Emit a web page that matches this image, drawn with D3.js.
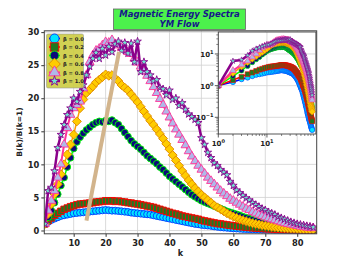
<!DOCTYPE html>
<html><head><meta charset="utf-8">
<script src="https://cdn.jsdelivr.net/npm/d3@7"></script>
<style>body{margin:0;background:#fff}svg{display:block}</style>
</head><body>
<svg id="c" width="352" height="264"></svg>
<script>
const kValues = d3.range(1, 86);
const beta00 = [1.0,1.3,1.6,1.8,2.0,2.2,2.3,2.4,2.5,2.6,2.65,2.7,2.75,2.8,2.85,2.9,2.95,3.0,3.05,3.1,3.05,3.0,3.0,2.95,2.9,2.85,2.8,2.7,2.65,2.6,2.55,2.5,2.45,2.4,2.3,2.2,2.1,2.0,1.9,1.8,1.7,1.6,1.5,1.4,1.3,1.2,1.1,1.0,0.95,0.85,0.8,0.75,0.7,0.62,0.56,0.5,0.45,0.41,0.37,0.33,0.3,0.27,0.24,0.22,0.2,0.18,0.16,0.14,0.13,0.12,0.11,0.1,0.09,0.085,0.08,0.075,0.07,0.065,0.06,0.055,0.05,0.048,0.045,0.042,0.04];
const beta02 = [1.0,1.5,1.9,2.3,2.6,2.9,3.2,3.4,3.6,3.75,3.9,4.0,4.05,4.1,4.15,4.2,4.3,4.35,4.4,4.5,4.45,4.5,4.4,4.45,4.35,4.3,4.2,4.15,4.05,4.0,3.9,3.8,3.7,3.6,3.5,3.35,3.2,3.05,2.9,2.75,2.6,2.5,2.35,2.2,2.1,2.0,1.9,1.8,1.7,1.55,1.45,1.35,1.25,1.15,1.05,1.0,0.92,0.85,0.78,0.72,0.66,0.6,0.55,0.5,0.45,0.41,0.37,0.34,0.31,0.28,0.25,0.23,0.21,0.19,0.17,0.16,0.14,0.13,0.12,0.11,0.1,0.09,0.085,0.08,0.075];
const beta04 = [1.0,2.0,3.0,4.2,5.5,6.8,8.0,9.6,11.0,12.4,13.4,14.1,14.7,15.2,15.6,16.0,16.3,16.5,16.4,16.6,16.5,16.7,16.3,16.0,15.4,14.8,14.2,13.6,13.1,12.7,12.3,11.8,11.3,10.9,10.5,10.1,9.6,9.2,8.7,8.2,7.8,7.4,7.0,6.6,6.2,5.8,5.4,5.1,4.8,4.5,4.3,4.1,3.9,3.7,3.5,3.3,3.1,2.9,2.75,2.6,2.45,2.3,2.1,1.95,1.8,1.65,1.5,1.35,1.2,1.1,1.0,0.9,0.8,0.72,0.64,0.57,0.5,0.45,0.4,0.35,0.31,0.28,0.25,0.22,0.2];
const beta06 = [1.0,2.5,4.0,5.5,7.0,8.5,10.0,11.5,13.0,14.5,16.5,18.5,19.8,20.8,21.3,21.8,22.4,22.8,23.2,23.6,23.4,23.5,23.0,22.6,22.0,21.6,21.2,20.6,20.0,19.4,18.7,18.0,17.3,16.6,16.0,15.3,14.6,13.9,13.1,12.3,11.4,10.6,9.8,9.0,8.3,7.6,7.0,6.4,5.9,5.4,5.0,4.6,4.2,3.8,3.5,3.2,2.9,2.6,2.35,2.1,1.9,1.7,1.55,1.4,1.25,1.1,1.0,0.9,0.8,0.72,0.64,0.57,0.51,0.46,0.41,0.37,0.33,0.3,0.27,0.24,0.22,0.2,0.18,0.16,0.15];
const beta08 = [1.0,3.0,4.5,6.0,8.0,10.0,13.0,15.5,17.5,18.5,19.0,19.5,21.5,23.5,25.5,26.5,27.2,27.5,28.0,28.5,28.4,28.8,28.2,28.0,27.6,27.4,27.0,26.7,26.0,25.4,24.8,24.1,23.4,22.6,21.7,20.8,19.9,19.0,18.0,17.1,16.2,15.3,14.5,13.7,12.9,12.0,11.2,10.5,9.8,9.2,8.6,8.0,7.5,7.0,6.5,6.0,5.6,5.2,4.8,4.5,4.2,3.9,3.6,3.3,3.1,2.8,2.6,2.4,2.2,2.0,1.85,1.7,1.55,1.4,1.25,1.1,1.0,0.9,0.8,0.7,0.6,0.52,0.45,0.4,0.35];
const beta10 = [1.0,6.0,6.5,9.0,12.5,14.5,16.0,17.5,18.5,20.0,19.5,21.0,22.0,23.5,24.8,26.0,26.9,26.0,27.5,26.5,27.8,27.0,28.2,28.6,27.2,28.4,26.8,28.3,25.5,28.6,24.0,25.5,24.0,23.5,22.6,22.8,21.6,21.4,20.5,21.2,19.8,20.0,18.9,19.3,18.3,17.6,17.2,16.8,16.3,14.0,13.0,11.8,11.0,10.2,9.8,9.2,8.8,8.4,7.4,6.8,6.1,5.7,5.3,4.9,4.6,4.2,3.9,3.6,3.3,3.1,2.8,2.6,2.4,2.1,1.9,1.7,1.5,1.3,1.15,1.0,0.9,0.8,0.7,0.6,0.5];
const legendLabels = ["β = 0.0","β = 0.2","β = 0.4","β = 0.6","β = 0.8","β = 1.0"];
const xTicks = [10,20,30,40,50,60,70,80];
const yTicks = [0,5,10,15,20,25,30];
const insetXTicks = [{v:1,e:"0"},{v:10,e:"1"}];
const insetYTicks = [{v:0.1,e:"−1"},{v:1,e:"0"},{v:10,e:"1"}];
const guideLine = [[14.0,1.5],[24.2,27.0]];
const titleLines = ["Magnetic Energy Spectra","YM Flow"];

const seriesData = [beta00,beta02,beta04,beta06,beta08,beta10];
const styles = [
  {line:"#0000ff", lw:1.5, sym:"circle", fill:"#00e5ff", edge:"#0033ff", size:38},
  {line:"#ff0000", lw:1.5, sym:"square", fill:"#1f7a1f", edge:"#ff0000", size:42},
  {line:"#00ff00", lw:1.5, sym:"circle", fill:"#0a0a7a", edge:"#00ff00", size:36},
  {line:"#ff9900", lw:1.5, sym:"diamond", fill:"#ffcc00", edge:"#e08a00", size:40},
  {line:"#ff3399", lw:2, sym:"triangle", fill:"#b0b8e8", edge:"#ff3399", size:34},
  {line:"#8b008b", lw:2.5, sym:"star", fill:"#70e8d0", edge:"#8b008b", size:18}
];
function symPath(s, scale){
  const sz = s.size*scale*scale;
  if (s.sym==="circle") return d3.symbol(d3.symbolCircle, sz)();
  if (s.sym==="square") return d3.symbol(d3.symbolSquare, sz)();
  if (s.sym==="diamond") return d3.symbol(d3.symbolSquare, sz)();
  if (s.sym==="triangle") return d3.symbol(d3.symbolTriangle, sz)();
  return d3.symbol(d3.symbolStar, sz)();
}
function rot(s){ return s.sym==="diamond" ? " rotate(45)" : ""; }

const svg = d3.select("#c");
const font = "DejaVu Sans, sans-serif";

const x = d3.scaleLinear().domain([0.8, 86.1]).range([44.3, 316.7]);
const y = d3.scaleLinear().domain([-0.5, 30.2]).range([233.8, 30.8]);

const g = svg.append("g");
g.append("rect").attr("x",44.3).attr("y",30.8).attr("width",272.4).attr("height",203).attr("fill","#fff");
g.selectAll(".gx").data(xTicks).join("line").attr("x1",d=>x(d)).attr("x2",d=>x(d)).attr("y1",30.8).attr("y2",233.8).attr("stroke","#d0d0d0").attr("stroke-width",0.8);
g.selectAll(".gy").data(yTicks).join("line").attr("y1",d=>y(d)).attr("y2",d=>y(d)).attr("x1",44.3).attr("x2",316.7).attr("stroke","#d0d0d0").attr("stroke-width",0.8);

svg.append("clipPath").attr("id","mc").append("rect").attr("x",44.3).attr("y",30.8).attr("width",272.4).attr("height",203);
const plot = g.append("g").attr("clip-path","url(#mc)");

const line = d3.line().x((d,i)=>x(kValues[i])).y(d=>y(d));
seriesData.forEach((arr,si)=>{
  const s = styles[si];
  plot.append("path").attr("d",line(arr)).attr("fill","none").attr("stroke",s.line).attr("stroke-width",s.lw).attr("stroke-linejoin","round");
  plot.append("g").selectAll("path").data(arr).join("path")
    .attr("transform",(d,i)=>`translate(${x(kValues[i])},${y(d)})`+rot(s))
    .attr("d",symPath(s,1)).attr("fill",s.fill).attr("stroke",s.edge).attr("stroke-width",0.9);
});
plot.append("line").attr("x1",x(guideLine[0][0])).attr("y1",y(guideLine[0][1])).attr("x2",x(guideLine[1][0])).attr("y2",y(guideLine[1][1])).attr("stroke","#d2b48c").attr("stroke-width",4);

const xAxis = g.append("g").attr("transform","translate(0,233.8)").call(d3.axisBottom(x).tickValues(xTicks).tickSize(3).tickPadding(3));
const yAxis = g.append("g").attr("transform","translate(44.3,0)").call(d3.axisLeft(y).tickValues(yTicks).tickSize(3).tickPadding(2));
[xAxis,yAxis].forEach(a=>{a.select(".domain").remove(); a.selectAll("text").attr("font-family",font).attr("font-weight","bold").attr("font-size",8.3).attr("fill","#222"); a.selectAll("line").attr("stroke","#333");});
g.append("rect").attr("x",44.3).attr("y",30.8).attr("width",272.4).attr("height",203).attr("fill","none").attr("stroke","#444").attr("stroke-width",1);

svg.append("text").attr("x",180.5).attr("y",256).attr("text-anchor","middle").attr("font-family",font).attr("font-weight","bold").attr("font-size",8).attr("fill","#222").text("k");
svg.append("text").attr("transform","translate(22,132) rotate(-90)").attr("text-anchor","middle").attr("font-family",font).attr("font-weight","bold").attr("font-size",7.5).attr("fill","#222").text("B(k)/B(k=1)");

const lg = svg.append("g");
lg.append("rect").attr("x",46.5).attr("y",34).attr("width",37).attr("height",54).attr("fill","#cccc40").attr("fill-opacity",0.9).attr("stroke","#999").attr("stroke-width",0.6).attr("rx",1.5);
legendLabels.forEach((t,i)=>{
  const s = styles[i]; const yy = 38.5 + i*8.5;
  lg.append("line").attr("x1",49).attr("x2",60).attr("y1",yy).attr("y2",yy).attr("stroke",s.line).attr("stroke-width",s.lw);
  lg.append("path").attr("transform",`translate(54.5,${yy})`+rot(s)).attr("d",symPath(s,1.3)).attr("fill",s.fill).attr("stroke",s.edge).attr("stroke-width",0.9);
  lg.append("text").attr("x",63).attr("y",yy+2).attr("font-family",font).attr("font-weight","bold").attr("font-size",5.2).attr("fill","#222").text(t);
});

const ix = d3.scaleLog().domain([1, 102]).range([218.3, 316]);
const iy = d3.scaleLog().domain([0.0297, 49.4]).range([134, 32]);
const ig = svg.append("g");
ig.append("rect").attr("x",218.3).attr("y",32).attr("width",97.7).attr("height",102).attr("fill","#fff");
const ixGrid = [1,10,100], iyGrid=[0.1,1,10];
ig.selectAll(".igx").data(ixGrid).join("line").attr("x1",d=>ix(d)).attr("x2",d=>ix(d)).attr("y1",32).attr("y2",134).attr("stroke","#d0d0d0").attr("stroke-width",0.8);
ig.selectAll(".igy").data(iyGrid).join("line").attr("y1",d=>iy(d)).attr("y2",d=>iy(d)).attr("x1",218.3).attr("x2",316).attr("stroke","#d0d0d0").attr("stroke-width",0.8);
svg.append("clipPath").attr("id","ic").append("rect").attr("x",218.3).attr("y",32).attr("width",97.7).attr("height",102);
const ip = ig.append("g").attr("clip-path","url(#ic)");
const iline = d3.line().x((d,i)=>ix(kValues[i])).y(d=>iy(d));
seriesData.forEach((arr,si)=>{
  const s = styles[si];
  ip.append("path").attr("d",iline(arr)).attr("fill","none").attr("stroke",s.line).attr("stroke-width",s.lw).attr("stroke-linejoin","round");
  ip.append("g").selectAll("path").data(arr).join("path")
    .attr("transform",(d,i)=>`translate(${ix(kValues[i])},${iy(d)})`+rot(s))
    .attr("d",symPath(s,0.75)).attr("fill",s.fill).attr("stroke",s.edge).attr("stroke-width",0.6);
});
const minorX = [2,3,4,5,6,7,8,9,20,30,40,50,60,70,80,90];
ig.selectAll(".imx").data(minorX).join("line").attr("x1",d=>ix(d)).attr("x2",d=>ix(d)).attr("y1",134).attr("y2",136).attr("stroke","#333").attr("stroke-width",0.6);
ig.selectAll(".imx2").data(ixGrid.slice(0,2)).join("line").attr("x1",d=>ix(d)).attr("x2",d=>ix(d)).attr("y1",134).attr("y2",137.5).attr("stroke","#333").attr("stroke-width",0.8);
const minorY = [0.03,0.04,0.05,0.06,0.07,0.08,0.09,0.2,0.3,0.4,0.5,0.6,0.7,0.8,0.9,2,3,4,5,6,7,8,9,20,30,40];
ig.selectAll(".imy").data(minorY).join("line").attr("y1",d=>iy(d)).attr("y2",d=>iy(d)).attr("x1",216.3).attr("x2",218.3).attr("stroke","#333").attr("stroke-width",0.6);
ig.selectAll(".imy2").data(iyGrid).join("line").attr("y1",d=>iy(d)).attr("y2",d=>iy(d)).attr("x1",214.8).attr("x2",218.3).attr("stroke","#333").attr("stroke-width",0.8);
insetXTicks.forEach(t=>{
  const tx = ig.append("text").attr("x",ix(t.v)).attr("y",146).attr("text-anchor","middle").attr("font-family",font).attr("font-weight","bold").attr("font-size",7).attr("fill","#222");
  tx.append("tspan").text("10");
  tx.append("tspan").attr("dy",-3).attr("font-size",5).text(t.e);
});
insetYTicks.forEach(t=>{
  const tx = ig.append("text").attr("x",213.5).attr("y",iy(t.v)+3).attr("text-anchor","end").attr("font-family",font).attr("font-weight","bold").attr("font-size",7).attr("fill","#222");
  tx.append("tspan").text("10");
  tx.append("tspan").attr("dy",-3).attr("font-size",5).text(t.e);
});
ig.append("rect").attr("x",218.3).attr("y",32).attr("width",97.7).attr("height",102).attr("fill","none").attr("stroke","#444").attr("stroke-width",0.9);

const tg = svg.append("g");
tg.append("rect").attr("x",113.5).attr("y",9).attr("width",132).attr("height",20.5).attr("fill","#4cf24c").attr("stroke","#666").attr("stroke-width",0.8);
titleLines.forEach((t,i)=>{
  tg.append("text").attr("x",179.5).attr("y",17 + i*9.5).attr("text-anchor","middle").attr("font-family",font).attr("font-weight","bold").attr("font-style","italic").attr("font-size",8.5).attr("fill","#16168a").text(t);
});
</script>
</body></html>
